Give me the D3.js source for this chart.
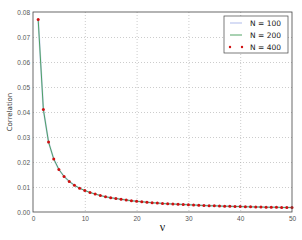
<!DOCTYPE html>
<html>
<head>
<meta charset="utf-8">
<script src="https://cdn.jsdelivr.net/npm/d3@7"></script>
<style>
  body { margin: 0; background: #fff; }
  svg { display: block; font-family: 'DejaVu Sans', sans-serif; }
</style>
</head>
<body>
<svg id="chart" width="302" height="240"></svg>
<script>
const nu = d3.range(1, 51)
// correlation, one value per nu = 1..50
const corr400 = [
  0.0770, 0.0410, 0.0280, 0.0212, 0.0170, 0.0142, 0.0122, 0.0107, 0.0095, 0.0086,
  0.0078, 0.0072, 0.0066, 0.0061, 0.0057, 0.0054, 0.0051, 0.0048, 0.0045, 0.0043,
  0.0041, 0.0039, 0.0037, 0.0036, 0.0034, 0.0033, 0.0032, 0.0031, 0.0030, 0.0029,
  0.0028, 0.0027, 0.0026, 0.0025, 0.0025, 0.0024, 0.0023, 0.0023, 0.0022, 0.0022,
  0.0021, 0.0021, 0.0020, 0.0020, 0.0019, 0.0019, 0.0019, 0.0018, 0.0018, 0.0018
]
const corr100 = corr400.slice()
const corr200 = corr400.slice()
const xTicks = [0, 10, 20, 30, 40, 50]
const yTicks = [0, 0.01, 0.02, 0.03, 0.04, 0.05, 0.06, 0.07, 0.08]
const legendLabels = ['N = 100', 'N = 200', 'N = 400']

const margin = { left: 33, right: 10, top: 12, bottom: 28 }
const W = 302, H = 240
const svg = d3.select('#chart')

const x = d3.scaleLinear().domain([0, 50]).range([margin.left, W - margin.right])
const y = d3.scaleLinear().domain([0, 0.08]).range([H - margin.bottom, margin.top])

// grid
const grid = svg.append('g')
grid.selectAll('.gx').data(xTicks.slice(1, -1)).join('line')
  .attr('x1', d => x(d) + 0.5).attr('x2', d => x(d) + 0.5)
  .attr('y1', y(0.08)).attr('y2', y(0))
  .attr('stroke', '#aaa').attr('stroke-width', 0.6).attr('stroke-dasharray', '1,2')
grid.selectAll('.gy').data(yTicks.slice(1, -1)).join('line')
  .attr('y1', d => Math.round(y(d)) + 0.5).attr('y2', d => Math.round(y(d)) + 0.5)
  .attr('x1', x(0)).attr('x2', x(50))
  .attr('stroke', '#aaa').attr('stroke-width', 0.6).attr('stroke-dasharray', '1,2')

// axes
const xAxis = svg.append('g').attr('transform', `translate(0,${y(0)})`)
  .call(d3.axisBottom(x).tickValues(xTicks).tickFormat(d3.format('d')).tickSize(0).tickPadding(4))
const yAxis = svg.append('g').attr('transform', `translate(${x(0)},0)`)
  .call(d3.axisLeft(y).tickValues(yTicks).tickFormat(d3.format('.2f')).tickSize(0).tickPadding(3))
for (const a of [xAxis, yAxis]) {
  a.select('.domain').remove()
  a.selectAll('text').attr('fill', '#555').style('font-size', '6.5px')
}

// lines
const line = (vals) => d3.line().x((d, i) => x(nu[i])).y(d => y(d))(vals)
svg.append('path').attr('d', line(corr100)).attr('fill', 'none')
  .attr('stroke', '#cdd5f3').attr('stroke-width', 1.8)
svg.append('path').attr('d', line(corr200)).attr('fill', 'none')
  .attr('stroke', '#3f9a55').attr('stroke-width', 0.9)
svg.append('g').selectAll('circle').data(corr400).join('circle')
  .attr('cx', (d, i) => x(nu[i])).attr('cy', d => y(d)).attr('r', 1.5)
  .attr('fill', '#d01010')

// frame
svg.append('rect').attr('x', x(0)).attr('y', y(0.08))
  .attr('width', x(50) - x(0)).attr('height', y(0) - y(0.08))
  .attr('fill', 'none').attr('stroke', '#444').attr('stroke-width', 0.8)

// axis labels
svg.append('text').attr('transform', `translate(12,${(y(0) + y(0.08)) / 2}) rotate(-90)`)
  .attr('text-anchor', 'middle').style('font-size', '7px').attr('fill', '#333').text('Correlation')
svg.append('text').attr('x', (x(0) + x(50)) / 2).attr('y', 231)
  .attr('text-anchor', 'middle').style('font-size', '12px')
  .style('font-family', "'Liberation Serif', serif").attr('fill', '#222').text('ν')

// legend
const lg = svg.append('g').attr('transform', 'translate(224,16)')
lg.append('rect').attr('width', 64).attr('height', 37)
  .attr('fill', '#fff').attr('stroke', '#444').attr('stroke-width', 0.7)
legendLabels.forEach((lab, i) => {
  const yy = 7 + i * 12
  if (i === 0) lg.append('line').attr('x1', 6).attr('x2', 18).attr('y1', yy).attr('y2', yy)
    .attr('stroke', '#cdd5f3').attr('stroke-width', 1.6)
  if (i === 1) lg.append('line').attr('x1', 6).attr('x2', 18).attr('y1', yy).attr('y2', yy)
    .attr('stroke', '#3f9a55').attr('stroke-width', 0.9)
  if (i === 2) {
    lg.append('circle').attr('cx', 6).attr('cy', yy).attr('r', 1.2).attr('fill', '#d01010')
    lg.append('circle').attr('cx', 18).attr('cy', yy).attr('r', 1.2).attr('fill', '#d01010')
  }
  lg.append('text').attr('x', 26).attr('y', yy + 2.5).style('font-size', '7.5px')
    .attr('fill', '#222').text(lab)
})
</script>
</body>
</html>
